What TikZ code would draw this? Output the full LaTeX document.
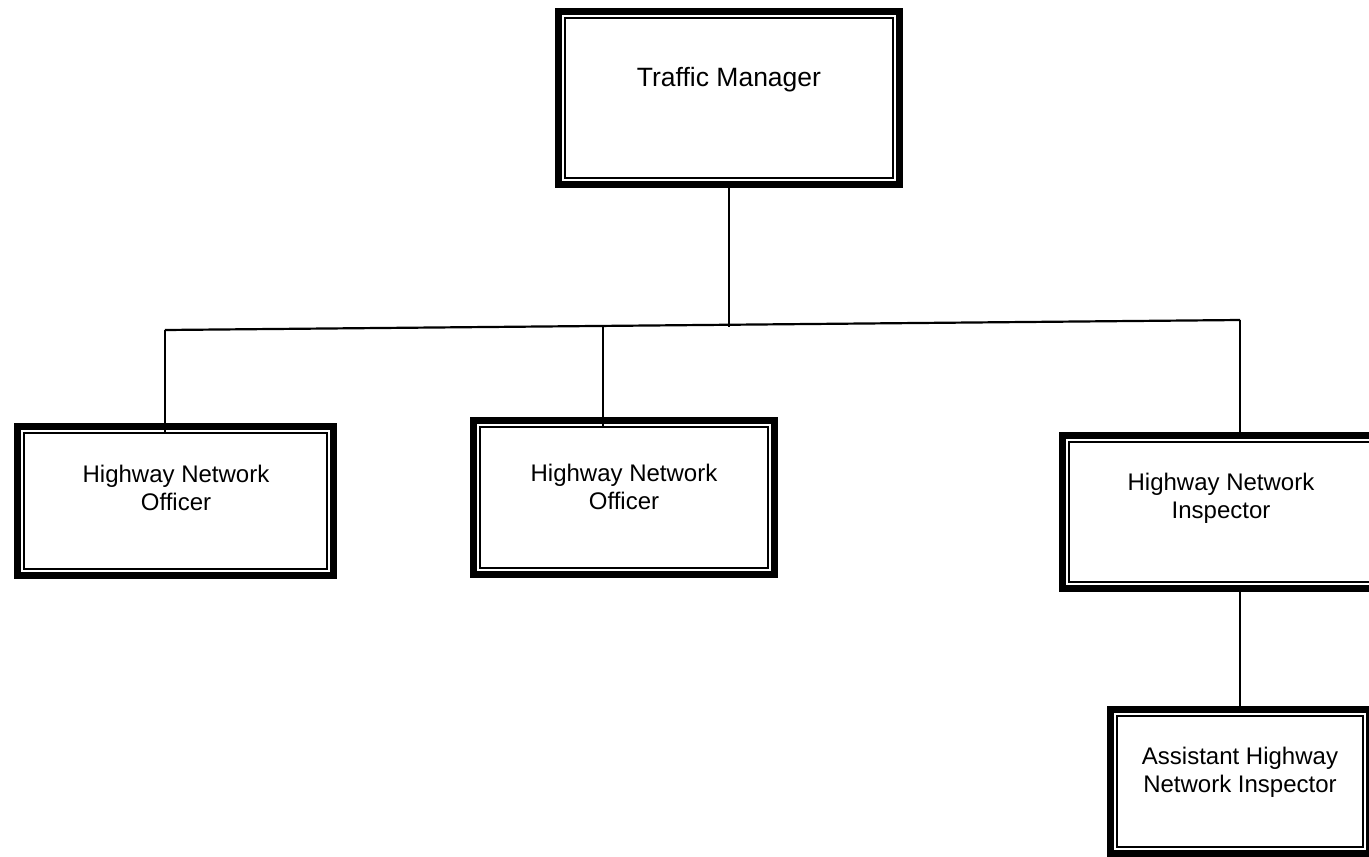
\documentclass[tikz,border=0pt]{standalone}
\usepackage{fontspec}
\setmainfont{Liberation Sans}
\begin{document}
\begin{tikzpicture}[x=1pt,y=-1pt,
  box/.style={draw, line width=7pt, inner sep=0pt, outer sep=0pt, fill=white},
  inner/.style={line width=1.6pt},
  conn/.style={line width=2.2pt},
  big/.style={font=\fontsize{26.5}{30}\selectfont, inner sep=0pt},
  lbl/.style={font=\fontsize{24}{28}\selectfont, align=center, inner sep=0pt}]
\useasboundingbox (0,0) rectangle (1369,857);
\clip (0,0) rectangle (1369,857);
\coordinate (bl) at (165,330);
\coordinate (br) at (1240,320);
\coordinate (bm) at (729,327);
\coordinate (b2) at (603,326);
% boxes
\node[box, minimum width=341pt, minimum height=173pt] (tm) at (729,98) {};
\node[box, minimum width=316pt, minimum height=149pt] (o1) at (175.5,501) {};
\node[box, minimum width=301pt, minimum height=154pt] (o2) at (624,497.5) {};
\node[box, minimum width=317pt, minimum height=153pt] (insp) at (1221,512) {};
\node[box, minimum width=259pt, minimum height=144pt] (asst) at (1240,781.5) {};
\foreach \n in {tm,o1,o2,insp,asst}{
  \draw[inner] ([shift={(6.5,6.5)}]\n.north west) rectangle ([shift={(-6.5,-6.5)}]\n.south east);
}
% connectors
\draw[conn] (tm.south) -- (bm);
\draw[conn] (bl) -- (br);
\draw[conn] (bl) -- ([yshift=-6pt]bl |- o1.north);
\draw[conn] (b2) -- ([yshift=-6pt]b2 |- o2.north);
\draw[conn] (br) -- (br |- insp.north);
\draw[conn] (br |- insp.south) -- (br |- asst.north);
% texts
\node[big, anchor=base] (tmt) at (729,86) {Traffic Manager};
\node[lbl, anchor=base] (o1t) at (176,510) {Highway Network\\Officer};
\node[lbl, anchor=base] (o2t) at (624,509) {Highway Network\\Officer};
\node[lbl, anchor=base] (inspt) at (1221,518) {Highway Network\\Inspector};
\node[lbl, anchor=base] (asstt) at (1240,792) {Assistant Highway\\Network Inspector};
\end{tikzpicture}
\end{document}
